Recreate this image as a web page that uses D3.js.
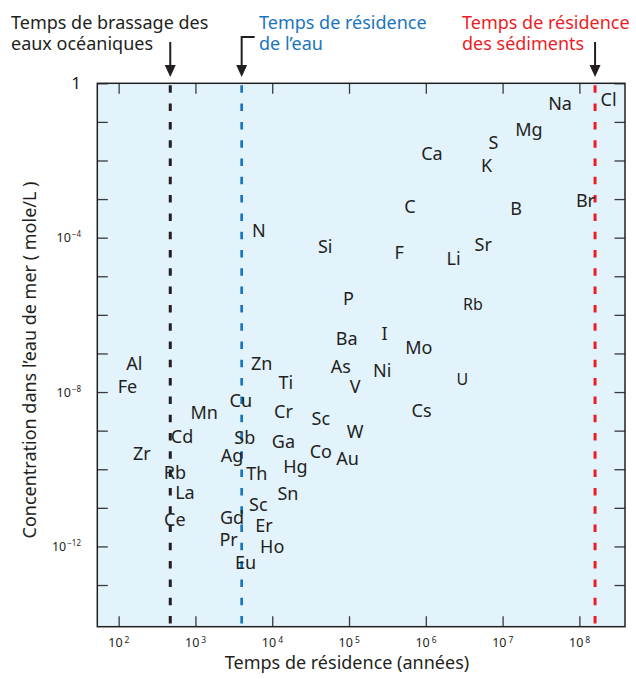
<!DOCTYPE html>
<html lang="fr">
<head>
<meta charset="UTF-8">
<title>Temps de résidence des éléments</title>
<script src="https://cdn.jsdelivr.net/npm/d3@7"></script>
<style>
  body { margin: 0; background: #fff; }
  svg text { font-family: "Noto Sans", sans-serif; fill: #231f20; }
</style>
</head>
<body>
<div id="chart"></div>
<script>

// element labels, residence time (years), concentration in sea water (mol/L)
var elements = ["Na","Cl","Mg","S","Ca","K","C","B","Br","N","Si","F","Li","Sr","P","Rb",
  "Ba","I","Mo","As","Ni","V","U","Sc","Cs","W","Co","Au","Al","Fe","Zn","Ti","Cu","Mn",
  "Cr","Cd","Sb","Ga","Zr","Ag","Rb","Th","Hg","La","Sn","Sc","Ce","Gd","Er","Pr","Ho","Eu"]
var residence = [5.6e7, 2.4e8, 2.2e7, 7.6e6, 1.2e6, 6.2e6, 6.2e5, 1.5e7, 1.2e8, 6.7e3, 4.9e4,
  4.5e5, 2.3e6, 5.6e6, 9.8e4, 4.1e6, 9.3e4, 2.9e5, 8.1e5, 7.8e4, 2.7e5, 1.2e5, 3.0e6, 4.3e4,
  8.8e5, 1.2e5, 4.3e4, 9.6e4, 1.6e2, 1.3e2, 7.3e3, 1.5e4, 3.9e3, 1.3e3, 1.4e4, 6.7e2, 4.4e3,
  1.4e4, 2.0e2, 3.0e3, 5.4e2, 6.3e3, 2.0e4, 7.3e2, 1.6e4, 6.6e3, 5.4e2, 3.0e3, 7.8e3, 2.7e3,
  1.0e4, 4.5e3]
var concentration = [3.0e-1, 3.7e-1, 6.2e-2, 2.9e-2, 1.5e-2, 7.2e-3, 6.4e-4, 5.8e-4, 9.1e-4,
  1.5e-4, 5.9e-5, 4.2e-5, 2.8e-5, 6.5e-5, 2.6e-6, 1.9e-6, 2.5e-7, 3.3e-7, 1.4e-7, 4.5e-8,
  3.7e-8, 1.4e-8, 2.2e-8, 2.1e-9, 3.3e-9, 9.4e-10, 2.9e-10, 1.9e-10, 5.6e-8, 1.4e-8, 5.6e-8,
  1.8e-8, 6.2e-9, 3.0e-9, 3.1e-9, 7.0e-10, 6.8e-10, 5.2e-10, 2.6e-10, 2.3e-10, 8.2e-11,
  7.9e-11, 1.2e-10, 2.5e-11, 2.4e-11, 1.2e-11, 4.9e-12, 5.6e-12, 3.5e-12, 1.5e-12, 9.9e-13,
  3.8e-13]

// reference times (years)
var refTimes = [4.7e2, 4.0e3, 1.6e8]
var refLabels = [["Temps de brassage des", "eaux océaniques"],
                 ["Temps de résidence", "de l\u2019eau"],
                 ["Temps de résidence", "des sédiments"]]

// tick values
var xTicks = [1e2, 1e3, 1e4, 1e5, 1e6, 1e7, 1e8]
var xTickExp = ["2", "3", "4", "5", "6", "7", "8"]
var yTicks = d3.range(0, 14).map(function(e) { return Math.pow(10, -e) })
var yLabelTicks = [1, 1e-4, 1e-8, 1e-12]
var yLabelExp = ["", "\u22124", "\u22128", "\u221212"]

var width = 636, height = 679
var plotL = 97.3, plotR = 625, plotT = 83.3, plotB = 626.7

var svg = d3.select("#chart").append("svg")
    .attr("width", width)
    .attr("height", height)

var x = d3.scaleLog()
    .domain([Math.pow(10, 1.722), Math.pow(10, 8.594)])
    .range([plotL, plotR])
var y = d3.scaleLog()
    .domain([1, Math.pow(10, -14.08)])
    .range([plotT, plotB])

// background
svg.append("rect")
    .attr("x", plotL).attr("y", plotT)
    .attr("width", plotR - plotL).attr("height", plotB - plotT)
    .attr("fill", "#e2f3fc")

// ticks pointing inwards on all four sides
var tickLen = 10.5
function drawAxis(axis, tx, ty) {
  var g = svg.append("g")
      .attr("transform", "translate(" + tx + "," + ty + ")")
      .call(axis)
  g.select(".domain").remove()
  g.selectAll("line").attr("stroke", "#3a3a3c").attr("stroke-width", 1.3)
  g.selectAll("text").remove()
}
drawAxis(d3.axisBottom(x).tickValues(xTicks).tickSize(-tickLen), 0, plotB)
drawAxis(d3.axisTop(x).tickValues(xTicks).tickSize(-tickLen), 0, plotT)
drawAxis(d3.axisLeft(y).tickValues(yTicks).tickSize(-tickLen), plotL, 0)
drawAxis(d3.axisRight(y).tickValues(yTicks).tickSize(-tickLen), plotR, 0)

// reference dashed lines
var refColors = ["#231f20", "#1b75bc", "#ed1c24"]
svg.selectAll(".ref")
  .data(refTimes)
  .enter().append("line")
    .attr("class", "ref")
    .attr("x1", function(d) { return x(d) }).attr("x2", function(d) { return x(d) })
    .attr("y1", plotT).attr("y2", plotB)
    .attr("stroke", function(d, i) { return refColors[i] })
    .attr("stroke-width", function(d, i) { return i === 1 ? 2.7 : 3 })
    .attr("stroke-dasharray", "7.5,10.8")
    .attr("stroke-dashoffset", -2)

// frame
svg.append("rect")
    .attr("x", plotL).attr("y", plotT)
    .attr("width", plotR - plotL).attr("height", plotB - plotT)
    .attr("fill", "none")
    .attr("stroke", "#231f20")
    .attr("stroke-width", 1.5)

// element labels
svg.selectAll(".el")
  .data(elements)
  .enter().append("text")
    .attr("class", "el")
    .attr("x", function(d, i) { return x(residence[i]) })
    .attr("y", function(d, i) { return y(concentration[i]) })
    .attr("dy", "0.36em")
    .attr("text-anchor", "middle")
    .style("font-size", function(d, i) {
      return (d === "U" || (d === "Rb" && concentration[i] > 1e-7)) ? "16px" : "18px"
    })
    .text(function(d) { return d })

// x tick labels with superscripts
var xl = svg.selectAll(".xl")
  .data(xTicks)
  .enter().append("text")
    .attr("class", "xl")
    .attr("x", function(d) { return x(d) - 10.4 })
    .attr("y", 647)
    .style("font-size", "12.5px")
xl.append("tspan").text("10")
xl.append("tspan")
    .attr("dx", 2)
    .attr("dy", -4)
    .style("font-size", "8.5px")
    .text(function(d, i) { return xTickExp[i] })

// y tick labels
var yl = svg.selectAll(".yl")
  .data(yLabelTicks)
  .enter().append("text")
    .attr("class", "yl")
    .attr("x", 81)
    .attr("y", function(d) { return y(d) + 4.5 })
    .attr("text-anchor", "end")
yl.each(function(d, i) {
  var t = d3.select(this)
  if (d === 1) {
    t.attr("y", y(d) + 6).style("font-size", "17px").text("1")
  } else {
    t.style("font-size", "12.5px")
    t.append("tspan").text("10")
    t.append("tspan").attr("dx", 1).attr("dy", -5).style("font-size", "8px").text(yLabelExp[i])
  }
})

// axis titles
svg.append("text")
    .attr("x", 347).attr("y", 669)
    .attr("text-anchor", "middle")
    .style("font-size", "18px")
    .text("Temps de résidence (années)")
svg.append("text")
    .attr("transform", "translate(36,360) rotate(-90)")
    .attr("text-anchor", "middle")
    .style("font-size", "18px")
    .text("Concentration dans l\u2019eau de mer ( mole/L )")

// annotations above the plot
var annX = [11, 259, 462]
refLabels.forEach(function(lines, i) {
  var t = svg.append("text")
      .attr("x", annX[i]).attr("y", 29)
      .style("font-size", "18px")
      .style("fill", refColors[i])
  lines.forEach(function(s, j) {
    t.append("tspan").attr("x", annX[i]).attr("dy", j === 0 ? 0 : 21).text(s)
  })
})

// arrows
refTimes.forEach(function(d, i) {
  var ax = x(d)
  var path = i === 1
    ? "M" + (ax + 13) + ",37H" + ax + "V68"
    : "M" + ax + ",42V68"
  svg.append("path")
      .attr("d", path)
      .attr("fill", "none")
      .attr("stroke", "#231f20")
      .attr("stroke-width", 2)
  svg.append("path")
      .attr("d", "M" + (ax - 5.5) + ",65L" + (ax + 5.5) + ",65L" + ax + ",77Z")
      .attr("fill", "#231f20")
})

</script>
</body>
</html>
